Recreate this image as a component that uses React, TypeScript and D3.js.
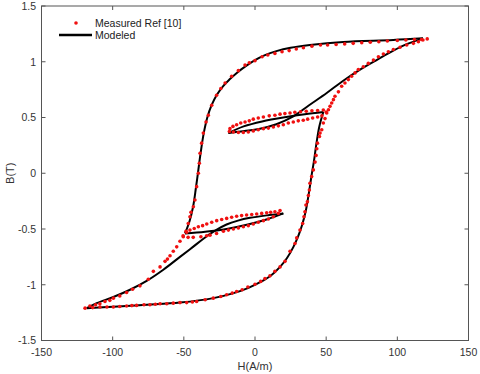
import React from "react";
import * as d3 from "d3";

// x ticks / y ticks
const xTicks = [-150, -100, -50, 0, 50, 100, 150];
const yTicks = [-1.5, -1, -0.5, 0, 0.5, 1, 1.5];

// modeled curve, split at the reversal corners
const modelMajorDown = [
  [118, 1.21], [97, 1.195], [62, 1.178], [38.6, 1.15], [25, 1.125], [15, 1.095], [7, 1.06],
  [0, 1.015], [-6, 0.965], [-12.8, 0.9], [-18, 0.84], [-22.5, 0.78], [-27, 0.7], [-30.5, 0.61],
  [-33.5, 0.5], [-36, 0.36], [-38, 0.2], [-39.8, 0.03], [-41.5, -0.13], [-43.5, -0.3],
  [-46, -0.43], [-49.2, -0.54],
];
const modelMinorLowUp = [
  [-49.2, -0.54], [-35, -0.525], [-20, -0.5], [-5, -0.46], [8, -0.415], [19.9, -0.36],
];
const modelMinorLowDown = [
  [19.9, -0.36], [10, -0.375], [-3.5, -0.4], [-12, -0.425], [-20, -0.46], [-28, -0.515],
  [-36, -0.585], [-44, -0.665], [-52.7, -0.75], [-64.4, -0.865], [-76.1, -0.965],
  [-87.8, -1.045], [-99.5, -1.11], [-111.2, -1.165], [-118.2, -1.21],
];
const modelMajorUp = [
  [-118.2, -1.21], [-99.5, -1.197], [-76, -1.18], [-52.7, -1.16], [-29.3, -1.12], [-15, -1.075],
  [-5, -1.03], [4, -0.975], [11, -0.92], [17.6, -0.84], [22.5, -0.76], [27, -0.66], [30.5, -0.56],
  [33.2, -0.46], [35.8, -0.33], [37.8, -0.18], [39.6, -0.03], [41.3, 0.1], [43.2, 0.27],
  [45.2, 0.42], [48, 0.55],
];
const modelMinorHighDown = [
  [48, 0.55], [35, 0.53], [22, 0.505], [5, 0.465], [-8, 0.42], [-18.7, 0.36],
];
const modelMinorHighUp = [
  [-18.7, 0.36], [-10, 0.375], [3.5, 0.4], [15, 0.44], [26.9, 0.51], [38, 0.61],
  [50.4, 0.72], [62, 0.83], [73.8, 0.93], [86, 1.02], [97.2, 1.1], [107, 1.16], [118, 1.21],
];

// measured points (Ref [10])
const measured = [
  [121, 1.205], [117, 1.2], [112, 1.2], [106, 1.195], [100, 1.19], [93, 1.186], [87, 1.18],
  [81, 1.175], [75, 1.17], [69, 1.165], [63, 1.16], [57, 1.155], [51, 1.15], [46, 1.15],
  [40, 1.14], [34, 1.125], [29, 1.115], [24, 1.1], [19, 1.09], [14, 1.075], [9, 1.06],
  [5, 1.045], [0, 1.01], [-4, 0.99], [-7, 0.97], [-11.7, 0.92], [-16.4, 0.87], [-21, 0.81],
  [-24, 0.76], [-27, 0.7], [-30.4, 0.61], [-32.8, 0.52], [-34.4, 0.46], [-36.3, 0.36],
  [-37.5, 0.27], [-38.6, 0.18], [-39.1, 0.09], [-39.8, 0], [-41, -0.12], [-42.2, -0.24],
  [-43.3, -0.3], [-45, -0.35], [-45.7, -0.39], [-46.9, -0.45], [-48.5, -0.52], [-50.4, -0.57],
  [-47, -0.575], [-43.4, -0.575], [-38, -0.57], [-34, -0.56], [-31.6, -0.555], [-27, -0.54],
  [-22.2, -0.52], [-18.7, -0.51], [-15.2, -0.5], [-11.7, -0.49], [-8.2, -0.48], [-4.7, -0.47],
  [-1.2, -0.455], [2.3, -0.44], [5.9, -0.425], [9.4, -0.41], [12.9, -0.39], [16.4, -0.36],
  [17.6, -0.335], [14, -0.345], [11, -0.35], [8.2, -0.355], [4.7, -0.36], [1.2, -0.365],
  [-2.3, -0.37], [-5.9, -0.375], [-9.4, -0.38], [-12.9, -0.385], [-16.4, -0.395],
  [-19.9, -0.405], [-23.4, -0.415], [-26.9, -0.425], [-30.4, -0.44], [-33.9, -0.455],
  [-36.8, -0.47], [-39.8, -0.48], [-42.7, -0.495], [-45.7, -0.51], [-48, -0.53], [-50.5, -0.56],
  [-52.7, -0.61], [-55, -0.66], [-57.4, -0.7], [-59.7, -0.74], [-61.5, -0.77], [-63.2, -0.79],
  [-66.7, -0.84], [-71.4, -0.88], [-75, -0.95], [-80.8, -1.01], [-86, -1.04], [-90.2, -1.07],
  [-95, -1.1], [-99.5, -1.12], [-102, -1.14], [-105.4, -1.15], [-109, -1.17], [-112, -1.18],
  [-116, -1.19], [-119.4, -1.21], [-114, -1.205], [-108.9, -1.2], [-104, -1.2], [-99.5, -1.2],
  [-95, -1.195], [-90.2, -1.19], [-86.5, -1.187], [-83.2, -1.185], [-78, -1.18], [-73.8, -1.18],
  [-70, -1.175], [-66.7, -1.17], [-62, -1.17], [-57.4, -1.165], [-52.7, -1.16], [-48, -1.16],
  [-44, -1.155], [-41, -1.15], [-35, -1.135], [-29.3, -1.12], [-24, -1.105], [-19.9, -1.09],
  [-16, -1.075], [-12.9, -1.06], [-9, -1.045], [-5, -1.02], [0, -0.995], [4, -0.97],
  [7, -0.945], [10.5, -0.92], [14, -0.88], [17.6, -0.84], [21.1, -0.79], [24.6, -0.7],
  [28.1, -0.63], [29.3, -0.58], [31.6, -0.51], [33.5, -0.45], [34.4, -0.39], [35.1, -0.345],
  [35.8, -0.285], [36.8, -0.255], [37.5, -0.2], [38.2, -0.15], [38.6, -0.09], [39.8, -0.03],
  [41, 0.03], [42.2, 0.1], [42.9, 0.16], [43.4, 0.22], [43.9, 0.27], [45.3, 0.33], [45.7, 0.36],
  [46.9, 0.39], [48, 0.45], [49.2, 0.49], [50.4, 0.54], [51.6, 0.57],
  [48, 0.567], [44, 0.563], [40, 0.56], [36, 0.556], [32, 0.552], [28, 0.547], [24.6, 0.54],
  [21, 0.535], [17.6, 0.53], [14, 0.52], [10, 0.515], [5.9, 0.505], [2.3, 0.495], [-1.2, 0.485],
  [-4, 0.47], [-7, 0.46], [-10, 0.45], [-12.9, 0.435], [-15.5, 0.42], [-17.6, 0.4], [-18, 0.375],
  [-15.2, 0.37], [-11.7, 0.365], [-8.2, 0.365], [-4.7, 0.37], [-1.2, 0.38], [2.3, 0.39],
  [5.9, 0.4], [9.4, 0.405], [12.9, 0.415], [16.4, 0.425], [19.9, 0.435], [23.4, 0.45],
  [26.9, 0.46], [30.4, 0.47], [33.9, 0.475], [37, 0.485], [40.5, 0.495], [44, 0.505],
  [47, 0.515], [50, 0.55], [52.7, 0.6], [53.9, 0.63], [55.1, 0.66], [56.2, 0.69], [58.6, 0.73],
  [60.9, 0.78], [63.2, 0.81], [65.6, 0.84], [67.9, 0.87], [70.3, 0.9], [72.6, 0.93],
  [76.1, 0.955], [79.6, 0.985], [83.2, 1.015], [86.7, 1.045], [90.2, 1.07], [93.7, 1.09],
  [97.2, 1.11], [101.9, 1.13], [106.6, 1.15], [111.3, 1.165], [114.8, 1.18], [118, 1.195],
];

const modelSegments = [
  modelMajorDown, modelMinorLowUp, modelMinorLowDown,
  modelMajorUp, modelMinorHighDown, modelMinorHighUp,
];

const W = 480;
const H = 374;
const left = 41.5, right = 468.5, top = 6, bottom = 340.5;
const font = "Arial, 'Liberation Sans', Helvetica, sans-serif";

export default function App() {
  const x = d3.scaleLinear().domain([-150, 150]).range([left, right]);
  const y = d3.scaleLinear().domain([-1.5, 1.5]).range([bottom, top]);
  const line = d3.line<number[]>()
    .x((d) => x(d[0]))
    .y((d) => y(d[1]))
    .curve(d3.curveCatmullRom.alpha(0.5));

  return (
    <svg width={W} height={H} style={{ position: "absolute", left: 0, top: 0, background: "#fff" }}
      fontFamily={font}>
      <rect x={left} y={top} width={right - left} height={bottom - top}
        fill="none" stroke="#555" strokeWidth={1} />
      {xTicks.map((t) => (
        <g key={"x" + t}>
          <line x1={x(t)} x2={x(t)} y1={bottom} y2={bottom - 4} stroke="#555" />
          <line x1={x(t)} x2={x(t)} y1={top} y2={top + 4} stroke="#555" />
          <text x={x(t)} y={356} textAnchor="middle" fontSize={10.5} fill="#333">{t}</text>
        </g>
      ))}
      {yTicks.map((t) => (
        <g key={"y" + t}>
          <line x1={left} x2={left + 4} y1={y(t)} y2={y(t)} stroke="#555" />
          <line x1={right} x2={right - 4} y1={y(t)} y2={y(t)} stroke="#555" />
          <text x={36} y={y(t) + 3.8} textAnchor="end" fontSize={10.5} fill="#333">{t}</text>
        </g>
      ))}
      <text x={x(0)} y={370} textAnchor="middle" fontSize={11} fill="#333">H(A/m)</text>
      <text transform={`translate(14,${y(0)}) rotate(-90)`} textAnchor="middle" fontSize={11} fill="#333">B(T)</text>

      {modelSegments.map((seg, i) => (
        <path key={"m" + i} d={line(seg) || ""} fill="none" stroke="#000" strokeWidth={2} />
      ))}
      {measured.map((d, i) => (
        <circle key={"p" + i} cx={x(d[0])} cy={y(d[1])} r={1.8} fill="#f01010" />
      ))}

      <circle cx={76} cy={23} r={1.8} fill="#f01010" />
      <text x={95} y={27} fontSize={10.5} fill="#222">Measured Ref [10]</text>
      <line x1={59} x2={92} y1={35} y2={35} stroke="#000" strokeWidth={2.5} />
      <text x={95} y={38.5} fontSize={10.5} fill="#222">Modeled</text>
    </svg>
  );
}
